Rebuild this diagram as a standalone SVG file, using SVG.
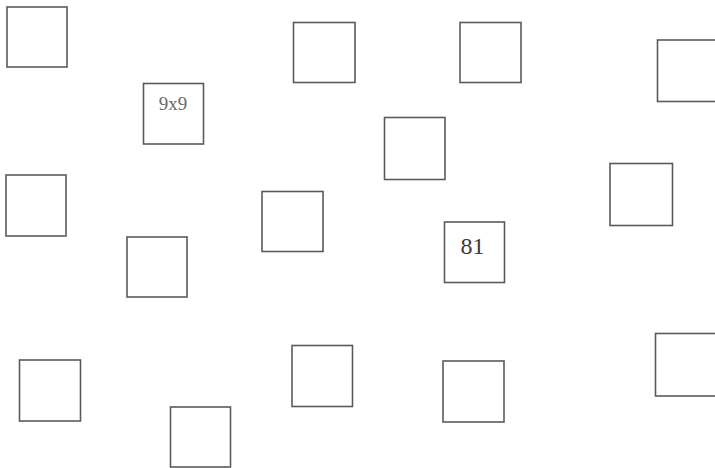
<svg xmlns="http://www.w3.org/2000/svg" width="715" height="468" viewBox="0 0 715 468">
<style>
.b{fill:none;stroke:#5a5a5a;stroke-width:1.6}
.t{font-family:"Liberation Serif","DejaVu Serif",serif;text-anchor:middle}
</style>
<rect width="715" height="468" fill="#fff"/>
<g id="box1"><rect class="b" x="7" y="7" width="60" height="60"/></g>
<g id="box2"><rect class="b" x="143.5" y="83.5" width="60" height="60.5"/><text class="t" x="173" y="110" font-size="19" fill="#6a6a6a">9x9</text></g>
<g id="box3"><rect class="b" x="293.5" y="22.5" width="61.5" height="60"/></g>
<g id="box4"><rect class="b" x="460" y="22.5" width="61" height="60"/></g>
<g id="box5"><rect class="b" x="657.5" y="40" width="62" height="61.5"/></g>
<g id="box6"><rect class="b" x="384.5" y="117.5" width="60.5" height="62"/></g>
<g id="box7"><rect class="b" x="6" y="175" width="60" height="61"/></g>
<g id="box8"><rect class="b" x="262" y="191.5" width="61" height="60"/></g>
<g id="box9"><rect class="b" x="610" y="163.5" width="62.5" height="62"/></g>
<g id="box10"><rect class="b" x="127" y="237" width="60" height="60"/></g>
<g id="box11"><rect class="b" x="444.5" y="222" width="60" height="60.5"/><text class="t" x="472.5" y="254" font-size="24" fill="#3a3a3a">81</text></g>
<g id="box12"><rect class="b" x="19.5" y="360" width="61" height="61"/></g>
<g id="box13"><rect class="b" x="292" y="345.5" width="60.5" height="61"/></g>
<g id="box14"><rect class="b" x="443" y="361" width="61" height="61"/></g>
<g id="box15"><rect class="b" x="655.5" y="333.5" width="64" height="62.5"/></g>
<g id="box16"><rect class="b" x="170.5" y="407" width="60" height="60"/></g>
<g id="connectors"></g>
</svg>
